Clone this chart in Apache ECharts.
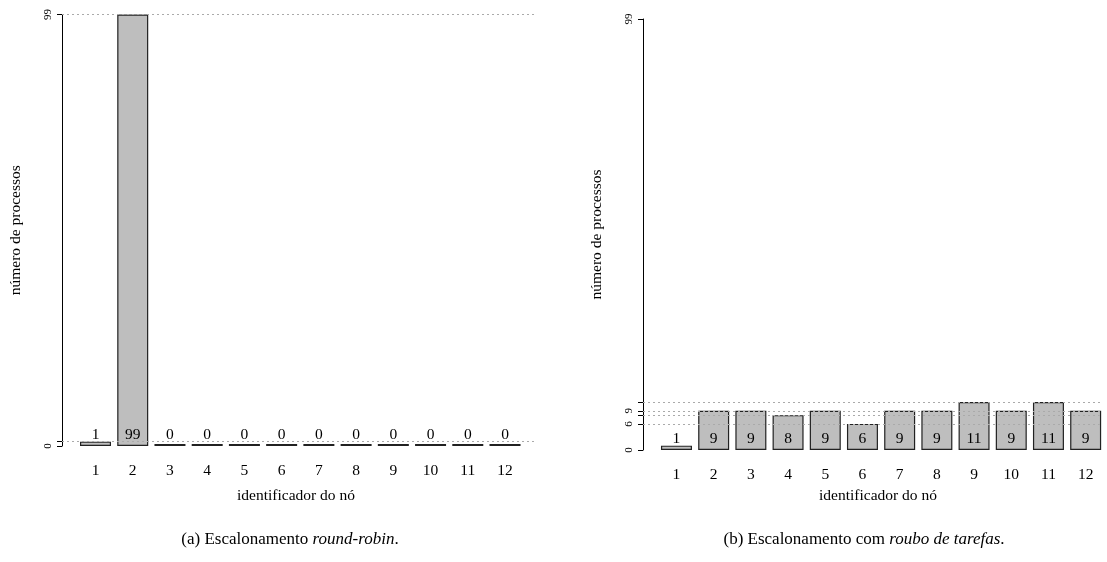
<!DOCTYPE html>
<html><head><meta charset="utf-8">
<script src="https://cdn.jsdelivr.net/npm/echarts@6/dist/echarts.min.js"></script>
<style>html,body{margin:0;padding:0;background:#fff}#c{width:1107px;height:562px}</style>
</head><body><div id="c"></div>
<script>
const nodes = [1,2,3,4,5,6,7,8,9,10,11,12];
const roundRobin = [1,99,0,0,0,0,0,0,0,0,0,0];
const workStealing = [1,9,9,8,9,6,9,9,11,9,11,9];
const yMax = 99;
const leftTicks = [0,1,99];
const leftTickLabels = [0,99];
const leftGuides = [1,99];
const rightTicks = [0,6,8,9,11,99];
const rightTickLabels = [0,6,9,99];
const rightGuides = [6,8,9,11];
const xTitle = 'identificador do nó';
const yTitle = 'número de processos';
const captionA = '(a) Escalonamento {i|round-robin}.';
const captionB = '(b) Escalonamento com {i|roubo de tarefas}.';

const FONT = '"Liberation Serif", "DejaVu Serif", serif';

function xAxisFor(idx, max) {
  return {
    gridIndex: idx, type: 'value', min: 0.1, max: max,
    axisLine: {show: false}, axisTick: {show: false}, splitLine: {show: false},
    axisLabel: {customValues: nodes, fontFamily: FONT, fontSize: 15.5, color: '#000', margin: 17}
  };
}
function yAxisFor(idx, ticks, labels) {
  return {
    gridIndex: idx, type: 'value', min: 0, max: yMax,
    axisLine: {show: true, lineStyle: {color: '#000', width: 1}},
    axisTick: {show: true, customValues: ticks, length: 5, lineStyle: {color: '#000', width: 1}},
    axisLabel: {customValues: labels, rotate: 90, fontFamily: FONT, fontSize: 11, color: '#000', margin: 8},
    splitLine: {show: false},
    name: yTitle, nameLocation: 'middle', nameGap: 38,
    nameTextStyle: {fontFamily: FONT, fontSize: 15.5, color: '#000'}
  };
}
function barSeries(idx, vals, guides) {
  return {
    type: 'bar', xAxisIndex: idx, yAxisIndex: idx,
    data: nodes.map((n, i) => [n, vals[i]]),
    barWidth: 31,
    barMinHeight: 2,
    itemStyle: {color: '#bebebe', borderColor: '#222', borderWidth: 1.2},
    label: {show: true, position: 'insideBottom', distance: 3, fontFamily: FONT, fontSize: 15.5, color: '#000'},
    markLine: {
      silent: true, symbol: 'none', animation: false,
      lineStyle: {type: [2, 3], color: '#aaa', width: 1},
      label: {show: false},
      data: guides.map(v => ({yAxis: v}))
    }
  };
}

const chart = echarts.init(document.getElementById('c'));
chart.setOption({
  animation: false,
  backgroundColor: '#fff',
  grid: [
    {left: 62, top: 14.5, width: 472.8, height: 431.5},
    {left: 643, top: 19, width: 459.4, height: 431}
  ],
  xAxis: [xAxisFor(0, 12.8), xAxisFor(1, 12.45)],
  yAxis: [yAxisFor(0, leftTicks, leftTickLabels), yAxisFor(1, rightTicks, rightTickLabels)],
  series: [barSeries(0, roundRobin, leftGuides), barSeries(1, workStealing, rightGuides)],
  graphic: [
    {type: 'text', x: 296, y: 496, style: {text: xTitle, font: '15.5px ' + FONT, fill: '#000', align: 'center', verticalAlign: 'middle'}},
    {type: 'text', x: 878, y: 496, style: {text: xTitle, font: '15.5px ' + FONT, fill: '#000', align: 'center', verticalAlign: 'middle'}},
    {type: 'text', x: 290, y: 540, style: {text: captionA, font: '17px ' + FONT, fill: '#000', align: 'center', verticalAlign: 'middle',
      rich: {i: {fontStyle: 'italic', fontSize: 17, fontFamily: FONT}}}},
    {type: 'text', x: 864, y: 540, style: {text: captionB, font: '17px ' + FONT, fill: '#000', align: 'center', verticalAlign: 'middle',
      rich: {i: {fontStyle: 'italic', fontSize: 17, fontFamily: FONT}}}}
  ]
});
</script></body></html>
